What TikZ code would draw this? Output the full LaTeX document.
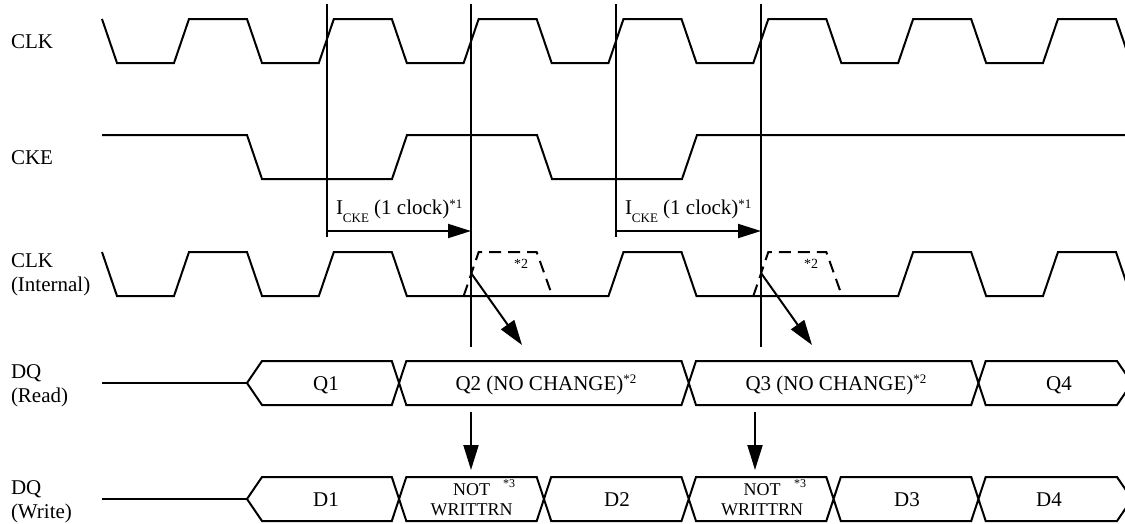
\documentclass[tikz,border=0pt]{standalone}
\usepackage{fontspec}
\setmainfont{Liberation Serif}
\usetikzlibrary{arrows.meta}
% small raised/lowered index text
\newcommand{\noteup}[2][7pt]{\raisebox{#1}{\fontsize{13}{13}\selectfont #2}}
\newcommand{\notedown}[1]{\raisebox{-8pt}{\fontsize{13}{13}\selectfont #1}}
\begin{document}
\begin{tikzpicture}[x=1pt,y=-1pt,line width=2pt,line join=miter,
  siglabel/.style={anchor=base west,inner sep=0pt,font=\fontsize{21}{24}\selectfont},
  buslabel/.style={anchor=base,inner sep=0pt,font=\fontsize{21}{24}\selectfont},
  narrowlabel/.style={anchor=base,inner sep=0pt,font=\fontsize{18}{20}\selectfont},
  smallnote/.style={anchor=base west,inner sep=0pt,font=\fontsize{13}{13}\selectfont},
  marker/.style={line width=2pt},
  spanarrow/.style={-{Triangle[length=23pt,width=14pt]}},
  causearrow/.style={-{Triangle[length=25pt,width=16pt]}},
  downarrow/.style={-{Triangle[length=25pt,width=15pt]}},
  missedpulse/.style={dash pattern=on 12pt off 7pt}]
\pgfmathsetmacro{\clkper}{144.83}
\useasboundingbox (0,0) rectangle (1125,523);
\clip (0,0) rectangle (1125,523);

% signal names
\node[siglabel] (lclk) at (10,48) {CLK};
\node[siglabel] (lcke) at (10,164) {CKE};
\node[siglabel] (lint1) at (10,267) {CLK};
\node[siglabel] (lint2) at (10,291) {(Internal)};
\node[siglabel] (lrd1) at (10,378) {DQ};
\node[siglabel] (lrd2) at (10,402) {(Read)};
\node[siglabel] (lwr1) at (10,494) {DQ};
\node[siglabel] (lwr2) at (10,518) {(Write)};

% external clock
\draw (102,19) -- (117,63)
  foreach \k in {0,...,6} { -- ({174+\k*\clkper},63) -- ({189+\k*\clkper},19)
                            -- ({247+\k*\clkper},19) -- ({262+\k*\clkper},63) };

% clock enable
\draw (102,135) -- (247,135) -- (262,179) -- (392,179) -- (407,135)
  -- (537,135) -- (552,179) -- (682,179) -- (697,135) -- (1125,135);

% internal clock (pulses 2 and 4 suppressed)
\draw (102,252) -- (117,296)
  foreach \k in {0,1,3,5,6} { -- ({174+\k*\clkper},296) -- ({189+\k*\clkper},252)
                              -- ({247+\k*\clkper},252) -- ({262+\k*\clkper},296) };
\foreach \k in {2,4}
  \draw[missedpulse] ({174+\k*\clkper},296) -- ({189+\k*\clkper},252)
        -- ({247+\k*\clkper},252) -- ({262+\k*\clkper},294);

% reference lines at the clock edges
\coordinate (v1t) at (327,4); \coordinate (v1b) at (327,237);
\coordinate (v2t) at (471,4); \coordinate (v2b) at (471,347);
\coordinate (v3t) at (616,4); \coordinate (v3b) at (616,237);
\coordinate (v4t) at (761,4); \coordinate (v4b) at (761,347);
\draw[marker] (v1t) -- (v1b);
\draw[marker] (v2t) -- (v2b);
\draw[marker] (v3t) -- (v3b);
\draw[marker] (v4t) -- (v4b);

% CKE latency spans
\coordinate (s1a) at (327,231); \coordinate (s1b) at (471,231);
\coordinate (s2a) at (616,231); \coordinate (s2b) at (761,231);
\draw[spanarrow] (s1a) -- (s1b);
\draw[spanarrow] (s2a) -- (s2b);
\node[siglabel] (icke1) at (335,214) {I\notedown{CKE} (1 clock)\noteup[6pt]{*1}};
\node[siglabel] (icke2) at (624,214) {I\notedown{CKE} (1 clock)\noteup[6pt]{*1}};
\node[smallnote,font=\fontsize{14}{14}\selectfont] (n2a) at (513,268) {*2};
\node[smallnote,font=\fontsize{14}{14}\selectfont] (n2b) at (803,268) {*2};

% effect of the suppressed edges
\coordinate (d1a) at (471,273); \coordinate (d1b) at (522,345);
\coordinate (d2a) at (761,273); \coordinate (d2b) at (812,345);
\draw[causearrow] (d1a) -- (d1b);
\draw[causearrow] (d2a) -- (d2b);
\coordinate (w1a) at (471,412); \coordinate (w1b) at (471,470);
\coordinate (w2a) at (755,412); \coordinate (w2b) at (755,470);
\draw[downarrow] (w1a) -- (w1b);
\draw[downarrow] (w2a) -- (w2b);

% read data bus
\draw (102,383) -- (247,383);
\draw (262,361) -- (391.8,361) -- (406.3,405) -- (681.5,405) -- (696,361)
  -- (971.2,361) -- (985.7,405) -- (1117,405) -- (1132,383) -- (1117,361)
  -- (985.7,361) -- (971.2,405) -- (696,405) -- (681.5,361) -- (406.3,361)
  -- (391.8,405) -- (262,405) -- (247,383) -- cycle;
\node[buslabel] (q1) at (326,390) {Q1};
\node[buslabel] (q2) at (546,390) {Q2 (NO CHANGE)\noteup{*2}};
\node[buslabel] (q3) at (836,390) {Q3 (NO CHANGE)\noteup{*2}};
\node[buslabel] (q4) at (1059,390) {Q4};

% write data bus
\draw (102,499) -- (247,499);
\draw (262,477) -- (391.8,477) -- (406.3,521) -- (536.7,521) -- (551.2,477)
  -- (681.5,477) -- (696,521) -- (826.3,521) -- (840.8,477) -- (971.2,477)
  -- (985.7,521) -- (1117,521) -- (1132,499) -- (1117,477) -- (985.7,477)
  -- (971.2,521) -- (840.8,521) -- (826.3,477) -- (696,477) -- (681.5,521)
  -- (551.2,521) -- (536.7,477) -- (406.3,477) -- (391.8,521) -- (262,521)
  -- (247,499) -- cycle;
\node[buslabel] (dd1) at (326,506) {D1};
\node[narrowlabel] (nw1a) at (471.5,495) {NOT};
\node[narrowlabel] (nw1b) at (471.5,515) {WRITTRN};
\node[smallnote,font=\fontsize{12}{12}\selectfont] (n3a) at (502,487) {*3};
\node[buslabel] (dd2) at (617,506) {D2};
\node[narrowlabel] (nw2a) at (762,495) {NOT};
\node[narrowlabel] (nw2b) at (762,515) {WRITTRN};
\node[smallnote,font=\fontsize{12}{12}\selectfont] (n3b) at (793,487) {*3};
\node[buslabel] (dd3) at (907,506) {D3};
\node[buslabel] (dd4) at (1049,506) {D4};
\end{tikzpicture}
\end{document}
